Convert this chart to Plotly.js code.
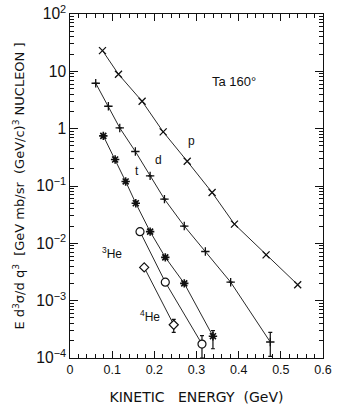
<!DOCTYPE html>
<html>
<head>
<meta charset="utf-8">
<script src="https://cdn.plot.ly/plotly-3.0.1.min.js"></script>
<style>
  html, body { margin: 0; padding: 0; background: #fff; }
  #plot { width: 346px; height: 415px; }
</style>
</head>
<body>
<div id="plot"></div>
<script>
// spectra (Ta target, 160 deg)
var pEnergy = [0.077, 0.115, 0.171, 0.221, 0.278, 0.337, 0.39, 0.465, 0.54];
var pYield = [23, 8.9, 3.0, 0.88, 0.27, 0.077, 0.0216, 0.0063, 0.0019];

var dEnergy = [0.061, 0.091, 0.118, 0.155, 0.19, 0.224, 0.271, 0.321, 0.381, 0.475];
var dYield = [6.2, 2.46, 1.03, 0.40, 0.15, 0.059, 0.020, 0.0072, 0.0021, 0.00019];
var dErrUp = [0, 0, 0, 0, 0, 0, 0, 0, 0, 0.00009];
var dErrDown = [0, 0, 0, 0, 0, 0, 0, 0, 0, 0.000083];

var tEnergy = [0.079, 0.107, 0.132, 0.156, 0.19, 0.226, 0.271, 0.339];
var tYield = [0.75, 0.29, 0.12, 0.050, 0.016, 0.0057, 0.0020, 0.00024];
var tErrUp = [0, 0, 0, 0, 0, 0, 0, 0.00006];
var tErrDown = [0, 0, 0, 0, 0, 0, 0, 0.000095];

var he3Energy = [0.166, 0.226, 0.313];
var he3Yield = [0.016, 0.0021, 0.000175];
var he3ErrUp = [0, 0, 0.00007];
var he3ErrDown = [0, 0, 0.000075];

var he4Energy = [0.176, 0.246];
var he4Yield = [0.0038, 0.00038];
var he4ErrUp = [0, 0.00009];
var he4ErrDown = [0, 0.0001];

var xTicks = [0, 0.1, 0.2, 0.3, 0.4, 0.5, 0.6];
var xTickText = ["0", "0.1", "0.2", "0.3", "0.4", "0.5", "0.6"];

var ink = "#111";

function errs(up, down) {
  return {
    type: "data", symmetric: false, array: up, arrayminus: down,
    color: ink, thickness: 1.2, width: 2
  };
}

var trace1 = {
  x: pEnergy, y: pYield, mode: "lines+markers", type: "scatter", name: "p",
  line: { color: ink, width: 0.9 },
  marker: { symbol: "x-thin-open", size: 7, color: ink, line: { color: ink, width: 1.3 } }
};

var trace2 = {
  x: dEnergy, y: dYield, mode: "lines+markers", type: "scatter", name: "d",
  line: { color: ink, width: 0.9 },
  marker: { symbol: "cross-thin-open", size: 6, color: ink, line: { color: ink, width: 1.3 } },
  error_y: errs(dErrUp, dErrDown)
};

var trace3 = {
  x: tEnergy, y: tYield, mode: "lines+markers", type: "scatter", name: "t",
  line: { color: ink, width: 0.9 },
  marker: { symbol: "asterisk-open", size: 7, color: ink, line: { color: ink, width: 1.6 } },
  error_y: errs(tErrUp, tErrDown)
};

// hollow markers drawn with a white fill so the line stops at the rim
var trace4 = {
  x: he3Energy, y: he3Yield, mode: "lines+markers", type: "scatter", name: "3He",
  line: { color: ink, width: 0.9 },
  marker: { symbol: "circle", size: 8, color: "#fff", line: { color: ink, width: 1.2 } },
  error_y: errs(he3ErrUp, he3ErrDown)
};

var trace5 = {
  x: he4Energy, y: he4Yield, mode: "lines+markers", type: "scatter", name: "4He",
  line: { color: ink, width: 0.9 },
  marker: { symbol: "diamond", size: 7, color: "#fff", line: { color: ink, width: 1.2 } },
  error_y: errs(he4ErrUp, he4ErrDown)
};

var data = [trace1, trace2, trace3, trace4, trace5];

var font = { family: "Liberation Sans, Arial, sans-serif", color: ink };
var wide = "DejaVu Sans, Liberation Sans, sans-serif";

function label(text, x, y, size) {
  return {
    text: text, x: x, y: y, xref: "x", yref: "y", showarrow: false,
    font: { family: font.family, color: ink, size: size || 12 }
  };
}

var layout = {
  width: 346,
  height: 415,
  margin: { l: 70, r: 23, t: 14, b: 57 },
  paper_bgcolor: "#fff",
  plot_bgcolor: "#fff",
  showlegend: false,
  font: font,
  xaxis: {
    range: [0, 0.6],
    tickvals: xTicks,
    ticktext: xTickText,
    ticks: "inside",
    ticklen: 7,
    tickwidth: 1,
    tickcolor: ink,
    minor: { dtick: 0.02, ticks: "inside", ticklen: 4, tickcolor: ink },
    showgrid: false,
    zeroline: false,
    showline: true,
    linecolor: ink,
    linewidth: 1.3,
    mirror: "allticks",
    tickfont: { size: 12.5, color: ink },
    title: {
      text: "KINETIC   ENERGY  (GeV)",
      font: { family: wide, size: 14, color: ink },
      standoff: 16
    }
  },
  yaxis: {
    type: "log",
    range: [-4, 2],
    dtick: 1,
    exponentformat: "power",
    ticks: "inside",
    ticklen: 8,
    tickwidth: 1,
    tickcolor: ink,
    minor: { dtick: "D1", ticks: "inside", ticklen: 4, tickcolor: ink },
    showgrid: false,
    zeroline: false,
    showline: true,
    linecolor: ink,
    linewidth: 1.3,
    mirror: "allticks",
    tickfont: { size: 12.5, color: ink },
    title: {
      text: "E d<sup>3</sup>σ/d q<sup>3</sup>  [GeV mb/sr  (GeV/c)<sup>3</sup> NUCLEON ]",
      font: { family: wide, size: 13, color: ink },
      standoff: 8
    }
  },
  annotations: [
    label("Ta 160°", 0.39, 0.83, 13),
    label("p", 0.288, -0.22, 12),
    label("d", 0.211, -0.55, 12),
    label("t", 0.16, -0.74, 12),
    label("<sup>3</sup>He", 0.1, -2.16, 12),
    label("<sup>4</sup>He", 0.19, -3.26, 12)
  ]
};

Plotly.newPlot("plot", data, layout, { staticPlot: true });
</script>
</body>
</html>
